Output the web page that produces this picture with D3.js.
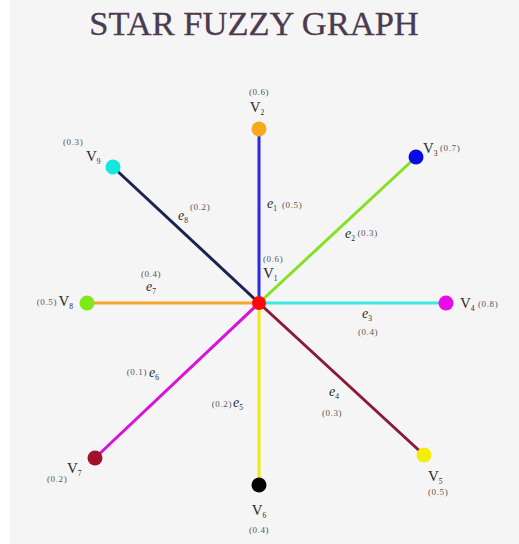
<!DOCTYPE html>
<html>
<head>
<meta charset="utf-8">
<script src="https://cdn.jsdelivr.net/npm/d3@7"></script>
<style>
  html, body { margin: 0; padding: 0; background: #fff; }
  svg { display: block; font-family: "Liberation Serif", "Times New Roman", serif; }
</style>
</head>
<body>
<svg id="chart" width="519" height="544"></svg>
<script>
// vertices of the star fuzzy graph and their membership values
const vertexNames = ["V1", "V2", "V3", "V4", "V5", "V6", "V7", "V8", "V9"];
const vertexMembership = [0.6, 0.6, 0.7, 0.8, 0.5, 0.4, 0.2, 0.5, 0.3];

// edges, all going out of the hub V1
const edgeNames = ["e1", "e2", "e3", "e4", "e5", "e6", "e7", "e8"];
const edgeTargets = ["V2", "V3", "V4", "V5", "V6", "V7", "V8", "V9"];
const edgeMembership = [0.5, 0.3, 0.4, 0.3, 0.2, 0.1, 0.4, 0.2];

// drawing layout in graph units (hub at 0,0, y up)
const layoutX = [0, 0, 1.57, 1.87, 1.65, 0, -1.64, -1.72, -1.46];
const layoutY = [0, 1.74, 1.46, 0, -1.52, -1.82, -1.55, 0, 1.36];

const vertexColors = ["#ff0a0a", "#f7a81b", "#0a0ae6", "#e80ae8", "#f2ee0a", "#050505", "#a3102e", "#7fe81a", "#14e6e0"];
const edgeColors = ["#2a2ae0", "#86e024", "#3ee8e2", "#8a1a3c", "#f0e814", "#d812d8", "#f5a52a", "#1b2352"];

// label placement (px offsets, anchor) for vertex names / values
const vNameOff = [[4, -25, "start"], [-2, -17, "middle"], [7, -4, "start"], [14, 5, "start"], [4, 26, "start"],
                  [0, 30, "middle"], [-28, 15, "start"], [-14, 3, "end"], [-27, -6, "start"]];
const vValOff = [[4, -41, "start"], [0, -34, "middle"], [24, -6, "start"], [32, 4, "start"], [4, 40, "start"],
                 [0, 48, "middle"], [-48, 24, "start"], [-30, 2, "end"], [-50, -22, "start"]];
// edge labels, offsets from the edge midpoint
const eNameOff = [[8, -8, "start"], [7.5, 8, "start"], [14.5, 15, "middle"], [-7.5, 17, "middle"],
                  [-26, 13, "start"], [-28, -3.5, "start"], [-22, -12, "middle"], [-8, -15, "start"]];
const eValOff = [[23, -8, "start"], [20, 6, "start"], [15.5, 32, "middle"], [-9.5, 37, "middle"],
                 [-27, 13, "end"], [-30, -5.5, "end"], [-22, -26, "middle"], [4, -25, "start"]];

const width = 519, height = 544;
const svg = d3.select("#chart");

svg.append("rect")
    .attr("x", 10).attr("y", 0)
    .attr("width", width - 10).attr("height", height)
    .attr("fill", "#f5f5f5");

svg.append("text")
    .attr("x", 254).attr("y", 35)
    .attr("text-anchor", "middle")
    .attr("font-size", 34.5)
    .attr("fill", "#4b3a50")
    .attr("stroke", "#4b3a50")
    .attr("stroke-width", 0.3)
    .text("STAR FUZZY GRAPH");

let x = d3.scaleLinear().domain([-2, 2]).range([59, 459]);
let y = d3.scaleLinear().domain([-2, 2]).range([503, 103]);

let nodes = vertexNames.map(function (name, i) {
    return { name: name, value: vertexMembership[i], x: x(layoutX[i]), y: y(layoutY[i]), i: i };
});
let byName = {};
nodes.forEach(function (n) { byName[n.name] = n; });

let links = edgeNames.map(function (name, i) {
    return { name: name, value: edgeMembership[i], source: byName["V1"], target: byName[edgeTargets[i]], i: i };
});

let fmt = d3.format(".1f");

// edges
svg.append("g")
    .selectAll("line")
    .data(links)
    .enter().append("line")
    .attr("x1", d => d.source.x).attr("y1", d => d.source.y)
    .attr("x2", d => d.target.x).attr("y2", d => d.target.y)
    .attr("stroke", d => edgeColors[d.i])
    .attr("stroke-width", 3);

// vertices
svg.append("g")
    .selectAll("circle")
    .data(nodes)
    .enter().append("circle")
    .attr("cx", d => d.x).attr("cy", d => d.y)
    .attr("r", d => d.i == 0 ? 7 : 7.5)
    .attr("fill", d => vertexColors[d.i]);

// name with subscript, e.g. V + 1
function addName(g, px, py, off, letter, sub, italic, size) {
    let t = g.append("text")
        .attr("x", px + off[0]).attr("y", py + off[1])
        .attr("text-anchor", off[2])
        .attr("fill", "#2a2a2a");
    t.append("tspan")
        .attr("font-size", size)
        .attr("font-style", italic ? "italic" : null)
        .text(letter);
    t.append("tspan")
        .attr("font-size", 7.5)
        .attr("dy", 3)
        .text(sub);
}

function addValue(g, px, py, off, v) {
    g.append("text")
        .attr("x", px + off[0]).attr("y", py + off[1])
        .attr("text-anchor", off[2])
        .attr("font-size", 9)
        .attr("letter-spacing", 0.6)
        .attr("fill", "#555")
        .text("(" + fmt(v) + ")");
}

let labels = svg.append("g");

nodes.forEach(function (n) {
    addName(labels, n.x, n.y, vNameOff[n.i], n.name.charAt(0), n.name.slice(1), false, 15);
    addValue(labels, n.x, n.y, vValOff[n.i], n.value);
});

links.forEach(function (l) {
    let mx = (l.source.x + l.target.x) / 2,
        my = (l.source.y + l.target.y) / 2;
    addName(labels, mx, my, eNameOff[l.i], l.name.charAt(0), l.name.slice(1), true, 14);
    addValue(labels, mx, my, eValOff[l.i], l.value);
});
</script>
</body>
</html>
